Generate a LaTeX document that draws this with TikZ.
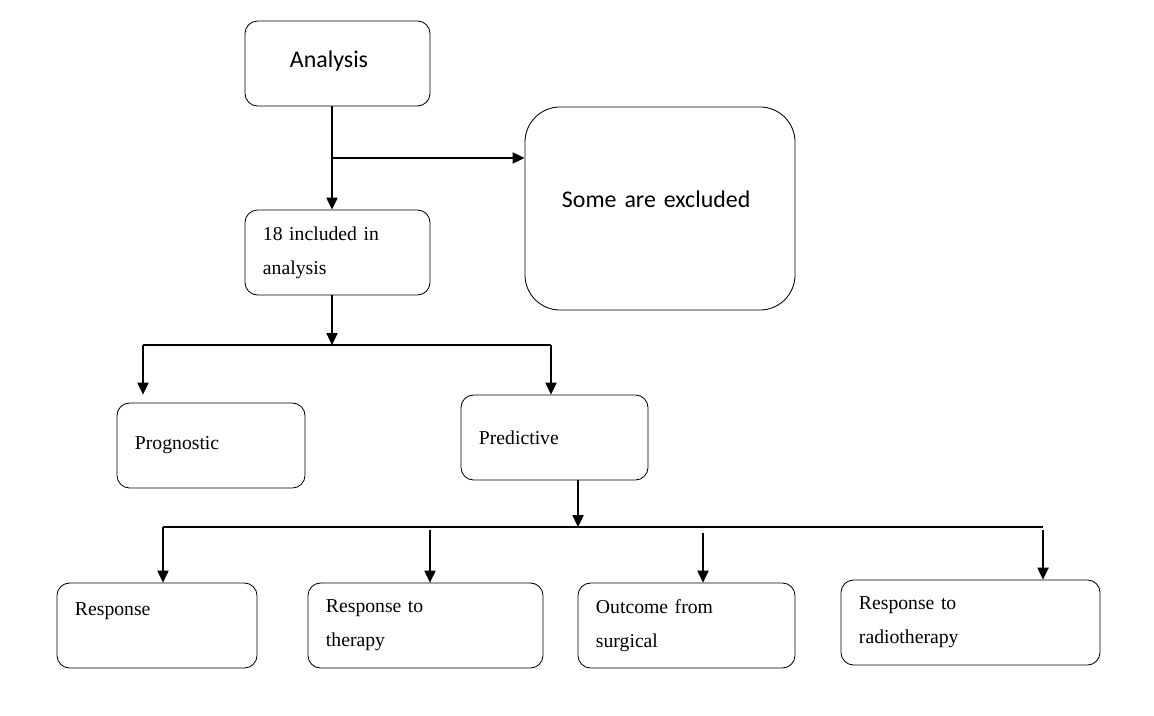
\documentclass[tikz,border=0pt]{standalone}
\usepackage{fontspec}
\setmainfont{Liberation Serif}
\newfontfamily\calibrifont{Carlito}
\usetikzlibrary{arrows.meta, calc, positioning}

\tikzset{
    box/.style={draw, line width=0.6pt, rounded corners=9pt, minimum height=2.125cm,
        inner xsep=0.45cm, inner ysep=0pt, align=left, font=\fontsize{14}{24}\selectfont},
    sansbox/.style={box, font=\calibrifont\fontsize{17}{20}\selectfont},
    arr/.style={->, line width=0.9pt},
    link/.style={line width=0.9pt}
}

\begin{document}
\begin{tikzpicture}[>={Triangle[length=8.5pt, width=8pt]}, x=0.025cm, y=-0.025cm]
    \useasboundingbox (0,0) rectangle (1154,715);

    % 1. Boxes
    \node[sansbox, text width=3.725cm, text depth=0.2cm] (analysis) at (337.5, 63.5) {\hspace*{0.675cm}Analysis};
    \node[sansbox, text width=5.85cm, text depth=0.45cm, minimum height=5.075cm, rounded corners=25pt] (excl) at (660, 208.5) {\hspace*{0.475cm}Some are excluded};
    \node[box, text width=3.725cm] (incl) at (337.5, 252.5) {18 included in\\analysis};
    \node[box, text width=3.8cm] (prog) at (211, 445.5) {Prognostic};
    \node[box, text width=3.775cm] (pred) at (554.5, 437.5) {Predictive};
    \node[box, text width=4.1cm] (r1) at (157, 625.5) {Response\\\mbox{}};
    \node[box, text width=4.975cm] (r2) at (425.5, 625.5) {Response\ to\\therapy};
    \node[box, text width=4.525cm] (r3) at (686.5, 625.5) {Outcome from\\surgical};
    \node[box, text width=5.575cm] (r4) at (970.5, 622.5) {Response to\\radiotherapy};

    % 2. Analysis -> included, branch to excluded
    \coordinate (a0) at (analysis.south -| 332,0);
    \coordinate (a1) at (incl.north -| 332,0);
    \draw[arr] (a0) -- (a1);
    \coordinate (b1) at ($(a0)!0.5!(a1)$);
    \draw[arr] (b1) -- (b1 -| excl.west);

    % 3. Included -> prognostic / predictive
    \coordinate (i0) at (incl.south -| 332,0);
    \coordinate (s1) at (332, 345);
    \coordinate (s1L) at (143, 345);
    \coordinate (s1R) at (551, 345);
    \draw[arr] (i0) -- (s1);
    \draw[link] (s1L) -- (s1R);
    \draw[arr, shorten >=0.2cm] (s1L) -- (s1L |- prog.north);
    \draw[arr] (s1R) -- (s1R |- pred.north);

    % 4. Predictive -> four outcomes
    \coordinate (p0) at (pred.south -| 578,0);
    \coordinate (s2) at (578, 527);
    \coordinate (s2L) at (163, 527);
    \coordinate (s2R) at (1043, 527);
    \draw[arr] (p0) -- (s2);
    \draw[link] (s2L) -- (s2R);
    \foreach \x/\y/\n in {163/527/r1, 430/530/r2, 703/533/r3, 1043/530/r4} {
        \draw[arr] (\x,\y) -- (\x,\y |- \n.north);
    }

\end{tikzpicture}
\end{document}
